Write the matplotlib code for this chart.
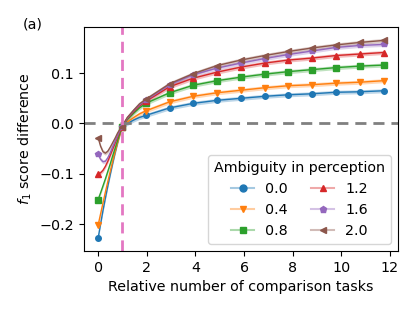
import numpy as np
import matplotlib
matplotlib.use("Agg")
import matplotlib.pyplot as plt
from matplotlib.lines import Line2D
from matplotlib.colors import to_rgb

# x positions (relative number of comparison tasks)
x = [0.0, 0.1, 0.2, 0.3, 0.4, 0.5, 0.6, 0.7, 0.8, 0.9, 0.98, 1.2, 1.47, 1.7, 1.96,
     2.94, 3.91, 4.89, 5.87, 6.85, 7.82, 8.80, 9.78, 10.76, 11.74]
marker_idx = [0, 10, 14, 15, 16, 17, 18, 19, 20, 21, 22, 23, 24]

ambiguity = ["0.0", "0.4", "0.8", "1.2", "1.6", "2.0"]
y_00 = [-0.228, -0.200, -0.173, -0.148, -0.124, -0.101, -0.079, -0.058, -0.038, -0.019, -0.006,
        0.000, 0.007, 0.012, 0.016, 0.031, 0.040, 0.046, 0.050, 0.054, 0.057, 0.059, 0.062, 0.063, 0.065]
y_04 = [-0.202, -0.180, -0.158, -0.136, -0.115, -0.095, -0.075, -0.056, -0.038, -0.021, -0.006,
        0.003, 0.012, 0.019, 0.025, 0.043, 0.054, 0.061, 0.066, 0.071, 0.075, 0.077, 0.080, 0.082, 0.085]
y_08 = [-0.151, -0.138, -0.124, -0.110, -0.095, -0.080, -0.064, -0.049, -0.034, -0.019, -0.006,
        0.008, 0.021, 0.031, 0.040, 0.061, 0.076, 0.085, 0.092, 0.098, 0.103, 0.107, 0.111, 0.114, 0.116]
y_12 = [-0.100, -0.098, -0.093, -0.085, -0.075, -0.063, -0.051, -0.039, -0.027, -0.015, -0.006,
        0.010, 0.024, 0.035, 0.044, 0.073, 0.090, 0.102, 0.112, 0.120, 0.126, 0.130, 0.135, 0.138, 0.141]
y_16 = [-0.061, -0.071, -0.076, -0.075, -0.068, -0.058, -0.046, -0.035, -0.024, -0.013, -0.006,
        0.011, 0.026, 0.037, 0.046, 0.077, 0.097, 0.110, 0.120, 0.129, 0.137, 0.144, 0.151, 0.155, 0.157]
y_20 = [-0.028, -0.045, -0.056, -0.059, -0.055, -0.047, -0.038, -0.029, -0.019, -0.011, -0.006,
        0.012, 0.027, 0.039, 0.048, 0.079, 0.099, 0.115, 0.126, 0.135, 0.143, 0.150, 0.156, 0.161, 0.165]
series = [y_00, y_04, y_08, y_12, y_16, y_20]

colors = ["tab:blue", "tab:orange", "tab:green", "tab:red", "tab:purple", "tab:brown"]
markers = ["o", "v", "s", "^", "p", "<"]

plt.rcParams["font.family"] = ["DejaVu Sans"]
plt.rcParams["font.size"] = 10.3

fig = plt.figure(figsize=(4.15, 3.12), dpi=100)
ax = fig.add_axes([0.202, 0.196, 0.757, 0.718])

xa = np.array(x)
for ys, c, m in zip(series, colors, markers):
    ya = np.array(ys)
    ax.fill_between(xa, ya - 0.004, ya + 0.004, color=c, alpha=0.3, lw=0)
    ax.plot(xa, ya, color=c, marker=m, markersize=4, lw=1, markevery=marker_idx)

ax.axhline(0, color="grey", ls="--", lw=2, dashes=(4, 2.5))
ax.axvline(1, color="tab:pink", ls="--", lw=2, dashes=(4, 2.5))

ax.set_xticks([0, 2, 4, 6, 8, 10, 12])
ax.set_yticks([-0.2, -0.1, 0.0, 0.1])
ax.set_xlim(-0.587, 12.33)
ax.set_ylim(-0.253, 0.192)
ax.set_xlabel("Relative number of comparison tasks")
ax.set_ylabel("$f_1$ score difference")

handles = []
for c, m in zip(colors, markers):
    r, g, b = to_rgb(c)
    light = (1 - 0.4 * (1 - r), 1 - 0.4 * (1 - g), 1 - 0.4 * (1 - b))
    handles.append(Line2D([], [], color=light, lw=1.5, marker=m, markersize=5,
                          markerfacecolor=c, markeredgecolor=c))
ax.legend(handles, ambiguity, title="Ambiguity in perception", ncol=2,
          loc="lower right", handlelength=1.6, columnspacing=1.6,
          title_fontsize=10.3)

fig.text(0.055, 0.91, "(a)", fontsize=10.3)

fig.savefig("out.png", dpi=100)
